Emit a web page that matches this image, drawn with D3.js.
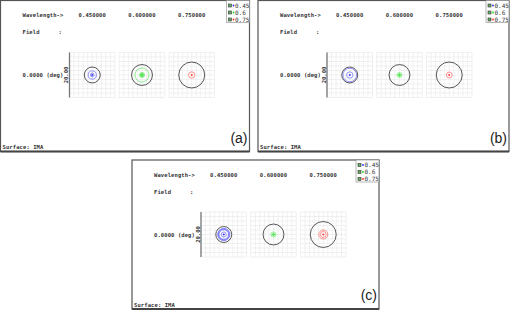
<!DOCTYPE html>
<html><head><meta charset="utf-8">
<script src="https://cdn.jsdelivr.net/npm/d3@7"></script>
<style>body{margin:0;background:#fff;}svg{display:block;}</style>
</head><body><svg id="c" width="510" height="311"></svg>
<script>
// ---------- data ----------
const wavelengths = [0.45, 0.6, 0.75];
const wavelengthLabels = ["0.450000", "0.600000", "0.750000"];
const legendLabels = ["0.45", "0.6", "0.75"];
const fieldLabel = "0.0000 (deg)";
const scaleLabel = "20.00";
const scaleMicrons = 20;
const surfaceLabel = "Surface: IMA";
const panelLabels = ["(a)", "(b)", "(c)"];
// Airy disk radius (µm) per wavelength
const airyRadius = [3.5, 4.6, 5.7];
// spot ring radii (µm) per wavelength, per panel
const spotsA = [[0.3, 0.8, 1.8], [0.2, 0.5, 0.8, 1.1, 3.1], [0.3, 1.4]];
const spotsB = [[0.3, 1.4, 3.0], [0.3, 0.6, 1.1], [0.3, 1.3]];
const spotsC = [[0.3, 1.1, 2.1, 2.4, 2.7], [0.3, 0.5, 1.1], [0.3, 1.3, 2.0]];

// ---------- styles ----------
const seriesColors = ["#2a2aff", "#22dd22", "#ff2a2a"];
const mono = "'DejaVu Sans Mono', monospace";

const svg = d3.select("#c");
const panels = [
  {x: 0.5, y: 0.5, w: 249, h: 151, spots: spotsA, label: panelLabels[0]},
  {x: 258, y: 0.5, w: 251, h: 151, spots: spotsB, label: panelLabels[1]},
  {x: 132, y: 160, w: 247, h: 149, spots: spotsC, label: panelLabels[2]}
];

panels.forEach(p => drawPanel(p));

function drawPanel(p) {
  const g = svg.append("g").attr("transform", `translate(${p.x},${p.y})`);
  g.append("rect").attr("width", p.w).attr("height", p.h)
    .attr("fill", "#fff").attr("stroke", "#555").attr("stroke-width", 1.2);
  g.append("line").attr("x1", 0).attr("x2", p.w).attr("y1", p.h).attr("y2", p.h)
    .attr("stroke", "#444").attr("stroke-width", 1.8);

  const txt = (x, y, s, anchor) => g.append("text").attr("x", x).attr("y", y)
    .attr("font-family", mono).attr("font-size", 5.5).attr("fill", "#333")
    .attr("font-weight", "bold").attr("letter-spacing", 0.1)
    .attr("text-anchor", anchor || "start").text(s);

  const boxX = d3.scaleBand().domain(wavelengths).range([69, 214]).paddingInner(0.085);
  const boxTop = 52, boxH = 45;

  txt(22, 16.5, "Wavelength->");
  wavelengths.forEach((w, i) => txt(boxX(w) + boxX.bandwidth() / 2, 16.5, wavelengthLabels[i], "middle"));
  txt(22, 33.5, "Field");
  txt(58, 33.5, ":");
  txt(22, 76.5, fieldLabel);
  txt(2, p.h - 2.5, surfaceLabel);

  g.append("text").attr("x", p.w - 2).attr("y", p.h - 9)
    .attr("font-family", "'Liberation Sans', Arial, sans-serif").attr("font-size", 14)
    .attr("fill", "#222").attr("text-anchor", "end").text(p.label);

  wavelengths.forEach((w, i) => {
    const x0 = boxX(w), bw = boxX.bandwidth();
    const sx = d3.scaleLinear().domain([-scaleMicrons / 2, scaleMicrons / 2]).range([x0, x0 + bw]);
    const sy = d3.scaleLinear().domain([-scaleMicrons / 2, scaleMicrons / 2]).range([boxTop + boxH, boxTop]);
    const r = d3.scaleLinear().domain([0, scaleMicrons]).range([0, bw]);
    const bg = g.append("g");
    const ticks = d3.range(-10, 10.01, 2);
    bg.selectAll("line.v").data(ticks).join("line")
      .attr("x1", d => sx(d)).attr("x2", d => sx(d)).attr("y1", boxTop).attr("y2", boxTop + boxH)
      .attr("stroke", "#e9e9e9").attr("stroke-width", 0.7);
    bg.selectAll("line.h").data(ticks).join("line")
      .attr("y1", d => sy(d)).attr("y2", d => sy(d)).attr("x1", x0).attr("x2", x0 + bw)
      .attr("stroke", "#e9e9e9").attr("stroke-width", 0.7);
    // Airy disk
    bg.append("circle").attr("cx", sx(0)).attr("cy", sy(0)).attr("r", r(airyRadius[i]))
      .attr("fill", "none").attr("stroke", "#444").attr("stroke-width", 0.9);
    // spot rings
    p.spots[i].forEach(rr => {
      bg.append("circle").attr("cx", sx(0)).attr("cy", sy(0)).attr("r", r(rr))
        .attr("fill", "none").attr("stroke", seriesColors[i]).attr("stroke-width", 0.7)
        .attr("stroke-opacity", 0.7);
    });
    bg.append("circle").attr("cx", sx(0)).attr("cy", sy(0)).attr("r", 0.8).attr("fill", seriesColors[i]);
  });

  // scale bar
  const x0 = boxX(wavelengths[0]);
  g.append("line").attr("x1", x0).attr("x2", x0).attr("y1", boxTop).attr("y2", boxTop + boxH)
    .attr("stroke", "#777").attr("stroke-width", 1.3);
  g.append("text").attr("transform", `translate(${x0 - 1.5},${boxTop + boxH / 2}) rotate(-90)`)
    .attr("font-family", mono).attr("font-size", 5.5).attr("font-weight", "bold").attr("fill", "#333")
    .attr("text-anchor", "middle").text(scaleLabel);

  // legend
  const lg = g.append("g").attr("transform", `translate(${p.w - 23},0)`);
  lg.append("rect").attr("width", 23).attr("height", 22).attr("fill", "#fff")
    .attr("stroke", "#888").attr("stroke-width", 0.6);
  legendLabels.forEach((l, i) => {
    const y = 5 + i * 7;
    lg.append("rect").attr("x", 2).attr("y", y - 1.5).attr("width", 3).attr("height", 3)
      .attr("fill", "#6a6").attr("stroke", "#333").attr("stroke-width", 0.6);
    lg.append("circle").attr("cx", 7).attr("cy", y).attr("r", 0.9).attr("fill", seriesColors[i]);
    lg.append("text").attr("x", 8.5).attr("y", y + 2.2).attr("font-family", mono)
      .attr("font-size", 6).attr("fill", "#333").text(l);
  });
}
</script></body></html>
